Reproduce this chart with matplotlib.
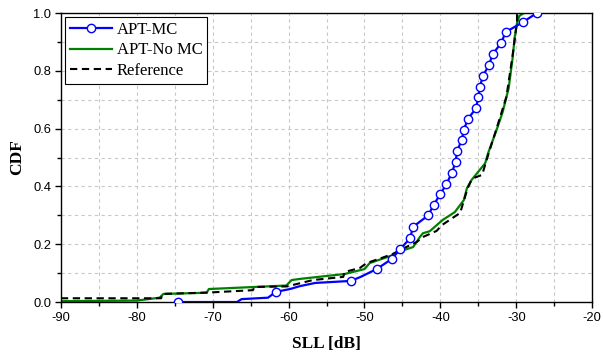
import matplotlib.pyplot as plt
from matplotlib.ticker import MultipleLocator

plt.rcParams['axes.unicode_minus'] = False

# CDF of side-lobe level, three configurations
mc_sll = [-74.6, -66.8, -66.2, -62.7, -61.7, -59.8, -58.5, -56.5, -51.8, -50.5,
          -48.4, -46.4, -45.3, -44.0, -43.6, -41.6, -40.9, -40.0, -39.2, -38.5,
          -38.0, -37.8, -37.2, -36.9, -36.4, -35.3, -35.0, -34.8, -34.4, -33.6,
          -33.1, -32.0, -31.4, -29.1, -27.3]
mc_cdf = [0.0, 0.0, 0.01, 0.015, 0.035, 0.045, 0.055, 0.066, 0.073, 0.087,
          0.114, 0.149, 0.183, 0.22, 0.26, 0.30, 0.335, 0.374, 0.408, 0.446,
          0.484, 0.522, 0.56, 0.595, 0.633, 0.67, 0.71, 0.744, 0.782, 0.82,
          0.858, 0.896, 0.934, 0.969, 1.0]
mc_marks = [0, 4, 8] + list(range(10, 35))

nomc_sll = [-90.0, -80.0, -77.0, -76.5, -70.8, -70.5, -60.3, -59.6, -58.5, -52.6,
            -50.0, -49.3, -46.6, -45.3, -43.6, -42.7, -42.3, -41.4, -39.7, -38.1,
            -36.9, -36.5, -35.9, -34.1, -33.7, -32.6, -31.8, -31.0, -30.5, -30.2,
            -29.9, -29.6, -29.0]
nomc_cdf = [0.003, 0.005, 0.015, 0.028, 0.032, 0.045, 0.057, 0.076, 0.08, 0.097,
            0.114, 0.135, 0.159, 0.176, 0.19, 0.225, 0.238, 0.245, 0.284, 0.311,
            0.353, 0.394, 0.422, 0.48, 0.516, 0.595, 0.657, 0.74, 0.84, 0.917,
            0.965, 0.99, 1.0]

ref_sll = [-90.0, -76.8, -76.6, -70.4, -64.7, -64.5, -60.2, -56.8, -52.8, -52.6,
           -50.6, -49.7, -48.0, -46.3, -45.3, -43.1, -42.3, -40.5, -39.8, -38.1,
           -37.4, -36.8, -36.4, -35.9, -35.5, -34.5, -33.5, -32.6, -31.3, -30.5,
           -29.9, -29.9]
ref_cdf = [0.013, 0.013, 0.028, 0.033, 0.041, 0.052, 0.054, 0.076, 0.087, 0.104,
           0.118, 0.135, 0.150, 0.166, 0.18, 0.208, 0.225, 0.246, 0.266, 0.296,
           0.308, 0.36, 0.394, 0.422, 0.43, 0.44, 0.526, 0.6, 0.71, 0.85,
           0.97, 1.0]

fig = plt.figure(figsize=(6.03, 3.63), dpi=100)
ax = fig.add_axes([0.101, 0.168, 0.881, 0.796])

ax.plot(mc_sll, mc_cdf, color='#0000ff', lw=1.6, marker='o', markersize=6,
        markerfacecolor='white', markeredgecolor='#0000ff', markeredgewidth=1.0,
        markevery=mc_marks, label='APT-MC', zorder=3)
ax.plot(nomc_sll, nomc_cdf, color='#008000', lw=1.6, label='APT-No MC', zorder=2)
ax.plot(ref_sll, ref_cdf, color='black', lw=1.5, ls=(0, (3.5, 2.2)),
        label='Reference', zorder=2.5)

ax.set_xlim(-90, -20)
ax.set_ylim(0, 1)
ax.xaxis.set_major_locator(MultipleLocator(10))
ax.xaxis.set_minor_locator(MultipleLocator(5))
ax.yaxis.set_major_locator(MultipleLocator(0.2))
ax.yaxis.set_minor_locator(MultipleLocator(0.1))
ax.yaxis.set_major_formatter(plt.FormatStrFormatter('%.1f'))
ax.grid(True, which='both', color='#c8c8c8', ls=(0, (3, 3)), lw=0.8)
ax.set_axisbelow(True)

ax.tick_params(which='both', direction='out', top=False, right=False,
               labelsize=9.3, pad=2.5)
ax.tick_params(which='major', length=4.5, width=1)
ax.tick_params(which='minor', length=3, width=1)
for lab in ax.get_xticklabels() + ax.get_yticklabels():
    lab.set_family('Liberation Sans')
for s in ax.spines.values():
    s.set_linewidth(1.0)

ax.set_xlabel('SLL [dB]', family='Liberation Serif', fontweight='bold',
              fontsize=12.5, labelpad=9)
ax.set_ylabel('CDF', family='Liberation Serif', fontweight='bold',
              fontsize=12.5, labelpad=6)

leg = ax.legend(loc='upper left', prop={'family': 'Liberation Serif', 'size': 12},
                frameon=True, fancybox=False, edgecolor='black', framealpha=1,
                handlelength=2.5, borderpad=0.3, labelspacing=0.25,
                handletextpad=0.3, borderaxespad=0.25)
leg.get_frame().set_linewidth(0.8)

fig.savefig('out.png', dpi=100)
